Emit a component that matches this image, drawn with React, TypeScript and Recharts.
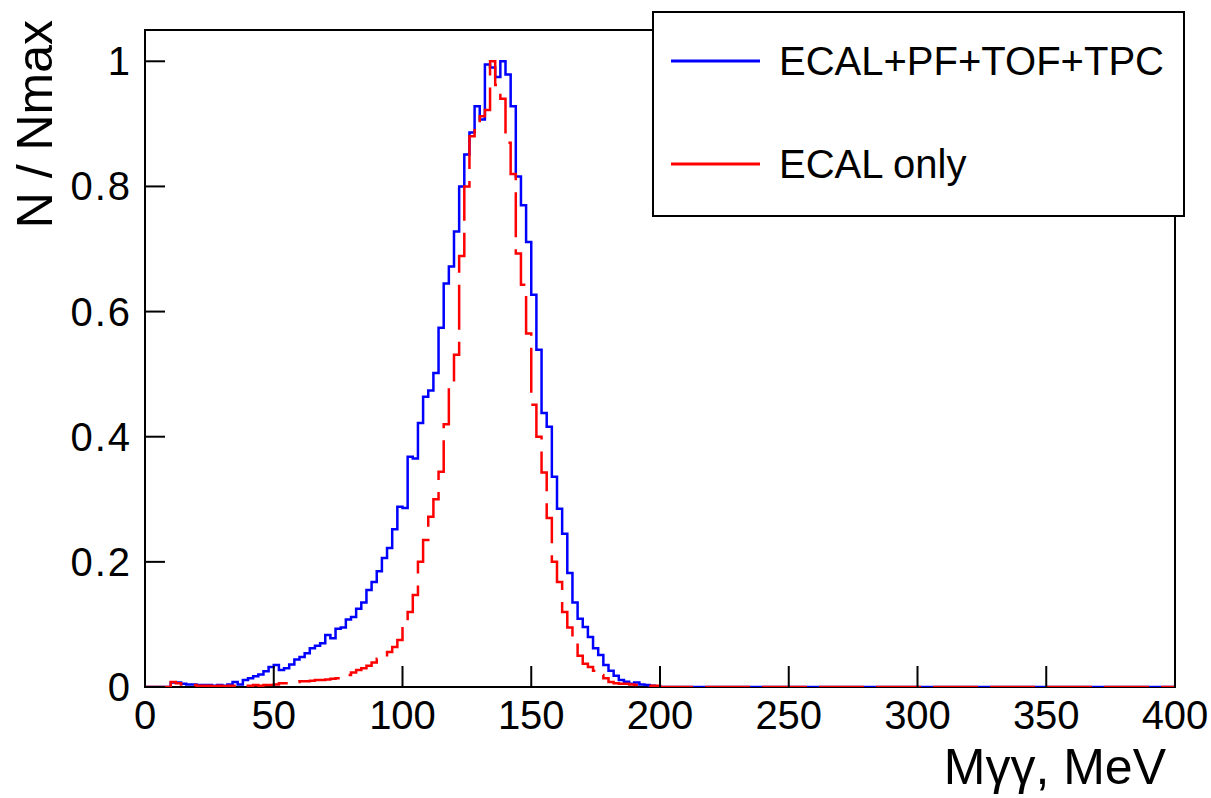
import React from 'react';
import { ComposedChart, Line, XAxis, YAxis, ReferenceArea, Legend, Label } from 'recharts';

// ---- data ----
const BIN_WIDTH = 2; // MeV
const FIRST_BIN = 10; // lower edge of the first filled bin, MeV
const X_MIN = 0;
const X_MAX = 400;
const Y_MAX = 1.05;

const xTicks = [0, 50, 100, 150, 200, 250, 300, 350, 400];
const xTickLabels = ['0', '50', '100', '150', '200', '250', '300', '350', '400'];
const yTicks = [0, 0.2, 0.4, 0.6, 0.8, 1];
const yTickLabels = ['0', '0.2', '0.4', '0.6', '0.8', '1'];

const seriesNames = ['ECAL+PF+TOF+TPC', 'ECAL only'];

// bins 10..198 MeV (lower edges), step 2 MeV
const ecalPfTofTpc = [
  0.007, 0.007, 0.005, 0.004, 0.004, 0.003, 0.003, 0.003, 0.002, 0.003, // 10-28
  0.002, 0.004, 0.008, 0.004, 0.011, 0.014, 0.017, 0.02, 0.025, 0.032, // 30-48
  0.035, 0.027, 0.03, 0.036, 0.044, 0.048, 0.054, 0.062, 0.066, 0.07, // 50-68
  0.083, 0.078, 0.093, 0.095, 0.108, 0.112, 0.125, 0.135, 0.155, 0.168, // 70-88
  0.185, 0.206, 0.222, 0.252, 0.288, 0.286, 0.368, 0.365, 0.422, 0.464, // 90-108
  0.474, 0.502, 0.574, 0.645, 0.672, 0.728, 0.8, 0.851, 0.886, 0.928, // 110-128
  0.907, 0.995, 0.99, 0.975, 1.0, 0.979, 0.928, 0.816, 0.77, 0.711, // 130-148
  0.627, 0.539, 0.438, 0.416, 0.336, 0.285, 0.245, 0.182, 0.135, 0.109, // 150-168
  0.096, 0.08, 0.062, 0.051, 0.035, 0.026, 0.018, 0.011, 0.0085, 0.005, // 170-188
  0.007, 0.004, 0.003, 0.002, 0.001, // 190-198
];

const ecalOnly = [
  0.008, 0.006, 0.004, 0.003, 0.003, 0.002, 0.002, 0.002, 0.001, 0.002, // 10-28
  0.001, 0.002, 0.002, 0.001, 0.002, 0.002, 0.003, 0.002, 0.003, 0.003, // 30-48
  0.004, 0.006, 0.006, 0.008, 0.008, 0.009, 0.009, 0.01, 0.011, 0.011, // 50-68
  0.012, 0.013, 0.014, 0.016, 0.019, 0.023, 0.027, 0.03, 0.034, 0.039, // 70-88
  0.045, 0.048, 0.056, 0.064, 0.075, 0.096, 0.12, 0.147, 0.2, 0.235, // 90-108
  0.272, 0.3, 0.344, 0.42, 0.486, 0.531, 0.689, 0.8, 0.88, 0.9, // 110-128
  0.912, 0.922, 1.0, 0.962, 0.94, 0.87, 0.82, 0.693, 0.643, 0.565, // 130-148
  0.451, 0.4, 0.343, 0.27, 0.2, 0.168, 0.12, 0.095, 0.078, 0.05, // 150-168
  0.037, 0.032, 0.026, 0.019, 0.014, 0.008, 0.006, 0.005, 0.005, 0.004, // 170-188
  0.003, 0.003, 0.002, 0.002, 0.002, // 190-198
];

// histogram table: one point per bin lower edge, plus the closing edge
const valueAt = (arr: number[], edge: number) => {
  const i = Math.round((edge - FIRST_BIN) / BIN_WIDTH);
  return i >= 0 && i < arr.length ? arr[i] : 0;
};
const data: { m: number; full: number; ecal: number }[] = [];
for (let e = X_MIN; e <= X_MAX; e += BIN_WIDTH) {
  data.push({ m: e, full: valueAt(ecalPfTofTpc, e), ecal: valueAt(ecalOnly, e) });
}

const FONT = '"Liberation Sans", Arial, Helvetica, sans-serif';
const X_TICK_FONT = 40;
const Y_TICK_FONT = 40;

const XTick = (props: any) => {
  const { x, y, payload } = props;
  const idx = xTicks.indexOf(payload.value);
  return (
    <g>
      <line x1={x} y1={y} x2={x} y2={y - 21} stroke="#000" strokeWidth={2} />
      <text x={x} y={y + 42} textAnchor="middle" fontSize={X_TICK_FONT} fontFamily={FONT} fill="#000">
        {xTickLabels[idx]}
      </text>
    </g>
  );
};

const YTick = (props: any) => {
  const { x, y, payload } = props;
  const idx = yTicks.indexOf(payload.value);
  return (
    <g>
      <line x1={x} y1={y} x2={x + 20} y2={y} stroke="#000" strokeWidth={2} />
      <text
        x={x - 13}
        y={y + 14}
        textAnchor="end"
        fontSize={Y_TICK_FONT}
        letterSpacing={2}
        fontFamily={FONT}
        fill="#000"
      >
        {yTickLabels[idx]}
      </text>
    </g>
  );
};

const renderLegend = () => (
  <svg width={534} height={207} style={{ display: 'block' }}>
    <rect x={1} y={1} width={531} height={204} fill="#fff" stroke="#000" strokeWidth={2} />
    <line x1={19} x2={108} y1={50} y2={50} stroke="#0000ff" strokeWidth={3} />
    <text x={127} y={64} fontSize={40} fontFamily={FONT} fill="#000">{seriesNames[0]}</text>
    <line x1={19} x2={108} y1={153} y2={153} stroke="#ff0000" strokeWidth={3} />
    <text x={127} y={167} fontSize={40} fontFamily={FONT} fill="#000">{seriesNames[1]}</text>
  </svg>
);

export default function App() {
  return (
    <div style={{ position: 'absolute', left: 0, top: 0, width: 1211, height: 798, background: '#fff' }}>
      <ComposedChart
        width={1211}
        height={798}
        data={data}
        margin={{ top: 30, right: 36, bottom: 0, left: 0 }}
      >
        <XAxis
          dataKey="m"
          type="number"
          domain={[X_MIN, X_MAX]}
          ticks={xTicks}
          interval={0}
          axisLine={false}
          tickLine={false}
          tickSize={0}
          tickMargin={0}
          height={111}
          tick={<XTick />}
          allowDataOverflow
        >
          <Label
            content={() => (
              <text x={1166} y={784} textAnchor="end" fontSize={50} fontFamily={FONT} fill="#000">
                Mγγ, MeV
              </text>
            )}
          />
        </XAxis>
        <YAxis
          type="number"
          domain={[0, Y_MAX]}
          ticks={yTicks}
          interval={0}
          axisLine={false}
          tickLine={false}
          tickSize={0}
          tickMargin={0}
          width={145}
          tick={<YTick />}
          allowDataOverflow
        >
          <Label
            content={() => (
              <text
                x={52}
                y={20}
                transform="rotate(-90, 52, 20)"
                textAnchor="end"
                fontSize={50}
                fontFamily={FONT}
                fill="#000"
              >
                N / Nmax
              </text>
            )}
          />
        </YAxis>
        <ReferenceArea x1={X_MIN} x2={X_MAX} y1={0} y2={Y_MAX} fill="none" stroke="#000" strokeWidth={2} ifOverflow="visible" />
        <Line
          dataKey="full"
          type="stepAfter"
          stroke="#0000ff"
          strokeWidth={2.5}
          dot={false}
          activeDot={false}
          isAnimationActive={false}
          name={seriesNames[0]}
        />
        <Line
          dataKey="ecal"
          type="stepAfter"
          stroke="#ff0000"
          strokeWidth={2.5}
          strokeDasharray="45 12"
          dot={false}
          activeDot={false}
          isAnimationActive={false}
          name={seriesNames[1]}
        />
        <Legend
          layout="vertical"
          align="center"
          verticalAlign="middle"
          content={renderLegend}
          wrapperStyle={{ position: 'absolute', left: 652, top: 11, width: 534, height: 207, margin: 0 }}
        />
      </ComposedChart>
    </div>
  );
}
